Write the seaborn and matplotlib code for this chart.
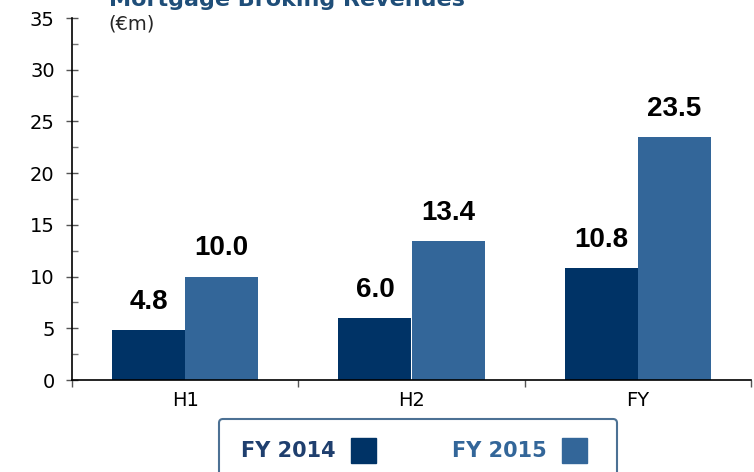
import pandas as pd
import matplotlib.pyplot as plt
from matplotlib.lines import Line2D
from matplotlib.ticker import MultipleLocator, FixedLocator
import seaborn as sns

periods = ['H1', 'H2', 'FY']
fy2014 = [4.8, 6.0, 10.8]
fy2015 = [10.0, 13.4, 23.5]
years = ['FY 2014', 'FY 2015']
colors = ['#003366', '#336699']

df = pd.DataFrame({
    'period': periods * 2,
    'value': fy2014 + fy2015,
    'year': [years[0]] * 3 + [years[1]] * 3,
})

sns.set_style('white')
plt.rcParams['font.family'] = ['DejaVu Sans']

fig = plt.figure(figsize=(7.54, 4.72), dpi=100)
ax = fig.add_axes([72 / 754, 1 - 380 / 472, 679 / 754, 362 / 472])

sns.barplot(data=df, x='period', y='value', hue='year', palette=colors,
            width=0.646, saturation=1, legend=False, ax=ax, edgecolor='none')

for cont in ax.containers:
    ax.bar_label(cont, fmt='%.1f', padding=11, fontsize=20, fontweight='bold',
                 family='Liberation Sans', color='black')

ax.set_xlim(-0.5, 2.5)
ax.set_ylim(0, 35)
ax.set_xlabel('')
ax.set_ylabel('')
sns.despine(ax=ax)
for s in ['left', 'bottom']:
    ax.spines[s].set_color('black')
    ax.spines[s].set_linewidth(1.2)

ax.yaxis.set_major_locator(MultipleLocator(5))
ax.yaxis.set_minor_locator(MultipleLocator(2.5))
ax.tick_params(axis='y', which='major', direction='inout', length=9, width=1,
               color='#555555', labelsize=14, pad=8, left=True, labelcolor='black')
ax.tick_params(axis='y', which='minor', direction='in', length=4, width=1,
               color='#777777', left=True)
ax.xaxis.set_minor_locator(FixedLocator([-0.5, 0.5, 1.5, 2.5]))
ax.tick_params(axis='x', which='major', length=0, labelsize=14, pad=8,
               labelcolor='black')
ax.tick_params(axis='x', which='minor', direction='out', length=5, width=1,
               color='#555555', bottom=True)

# title sits partly above the top edge, as in the source slide
fig.text(109 / 754, 1 - 6 / 472, 'Mortgage Broking Revenues', fontsize=16,
         fontweight='bold', color='#1f4e79', va='baseline', ha='left')
fig.text(108 / 754, 1 - 24 / 472, '(€m)', fontsize=14, va='center', ha='left')

handles = [Line2D([], [], marker='s', linestyle='none', markersize=18,
                  markerfacecolor=c, markeredgecolor=c) for c in colors]
leg = fig.legend(handles, years, loc='upper center', ncol=2,
                 bbox_to_anchor=(418 / 754, 1 - 419 / 472), markerfirst=False,
                 frameon=True, fancybox=True, edgecolor='#1f4e79',
                 prop={'size': 15, 'weight': 'bold'}, handletextpad=0.3,
                 columnspacing=3.3, borderpad=1.05, borderaxespad=0)
leg.get_frame().set_linewidth(1.5)
for t, c in zip(leg.get_texts(), ['#1f3f6e', '#336699']):
    t.set_color(c)

fig.savefig('out.png', dpi=100)
